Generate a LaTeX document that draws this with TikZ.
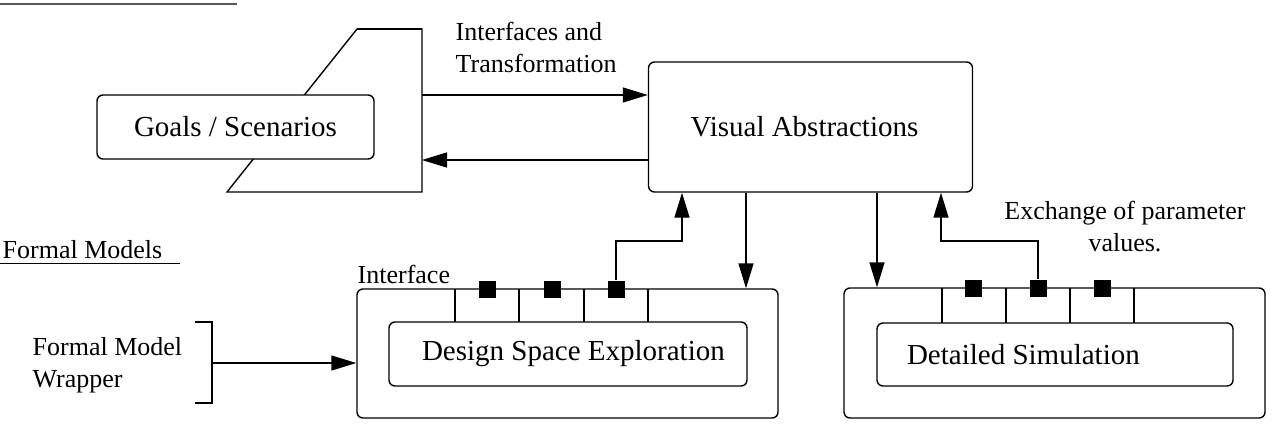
\documentclass[tikz,border=0pt]{standalone}
\usepackage{fontspec}
\setmainfont{Liberation Serif}
\usetikzlibrary{arrows.meta}

\tikzset{
  box/.style={draw, rounded corners=3pt, fill=white, inner sep=0pt,
    font=\fontsize{14.5}{17}\selectfont},
  big/.style={inner sep=0pt, font=\fontsize{14.5}{17}\selectfont},
  note/.style={inner sep=0pt, font=\fontsize{13}{16}\selectfont},
  arr/.style={-{Triangle[length=12.5pt,width=7.5pt]}},
  port/.style={fill, minimum size=8.5pt, inner sep=0pt},
}

\begin{document}
\begin{tikzpicture}[x=0.5pt,y=-0.5pt,line width=0.7pt]
            \useasboundingbox (0,0) rectangle (1272,429);

            \draw[line width=1pt, black!65] (0,4) -- (237,4);

            % goals and the backing shape
            \draw (357,29) -- (422,29) -- (422,192) -- (227,192) -- cycle;
            \draw[line width=1.1pt] (357,29) -- (422,29);
            \coordinate (gout) at (422,95);
            \coordinate (gin) at (422,160);
            \node[box, minimum width=138.5pt, minimum height=32pt] (goals) at (235.5,127) {Goals / Scenarios};

            \node[box, minimum width=162pt, minimum height=65pt] (visual) at (810.5,127) {};
            \node[big] (vistext) at (804.5,127) {Visual Abstractions};

            \node[note, anchor=west, align=left] at (455,47) {Interfaces and\\Transformation};
            \draw[arr] (gout) -- (gout -| visual.west);
            \draw[arr] (gin -| visual.west) -- (gin);

            % design space exploration
            \node[box, minimum width=210.5pt, minimum height=64.5pt] (dse) at (567.5,353.5) {};
            \node[box, minimum width=179pt, minimum height=32pt] (dsecore) at (568,354) {};
            \node[big, anchor=west] (dsetext) at ([xshift=16.5pt]dsecore.west) {Design Space Exploration};
            \foreach \x in {455,519,584,648} \draw (\x,289) -- (\x,322);
            \node[note, anchor=base west] at (357,283) {Interface};

            % detailed simulation
            \node[box, minimum width=210.5pt, minimum height=65pt] (sim) at (1054.5,353) {};
            \node[box, minimum width=178pt, minimum height=31.5pt] (simcore) at (1055,354.5) {};
            \node[big, anchor=west] (simtext) at ([xshift=15pt]simcore.west) {Detailed Simulation};
            \foreach \x in {942,1006,1070,1134} \draw (\x,288) -- (\x,323);

            \foreach \x/\n in {487/p1,552/p2,616/p3} \node[port] (\n) at (\x,289) {};
            \foreach \x/\n in {973/q1,1038/q2,1102/q3} \node[port] (\n) at (\x,288) {};

            \coordinate (bendA) at (682,241);
            \coordinate (bendB) at (941,241);
            \coordinate (downA) at (746,192);
            \coordinate (downB) at (877,192);
            \draw[arr] (p3.north) |- (bendA) -- (bendA |- visual.south);
            \draw[arr] (q2.north) |- (bendB) -- (bendB |- visual.south);
            \draw[arr] (downA |- visual.south) -- (downA |- dse.north);
            \draw[arr] (downB |- visual.south) -- (downB |- sim.north);

            \node[note, align=center] at (1125,227) {Exchange of parameter\\values.};

            % formal models
            \node[note, anchor=west] (fm) at (2,250) {Formal Models};
            \draw[line width=0.5pt] (0,263) -- (180,263);
            \node[note, anchor=west, align=left] (wrap) at (32,365) {Formal Model\\Wrapper};
            \draw (195,322) -- (212,322) -- (212,403) -- (195,403);
            \coordinate (brk) at (212,363);
            \draw[arr] (brk) -- (brk -| dse.west);
        \end{tikzpicture}
\end{document}
